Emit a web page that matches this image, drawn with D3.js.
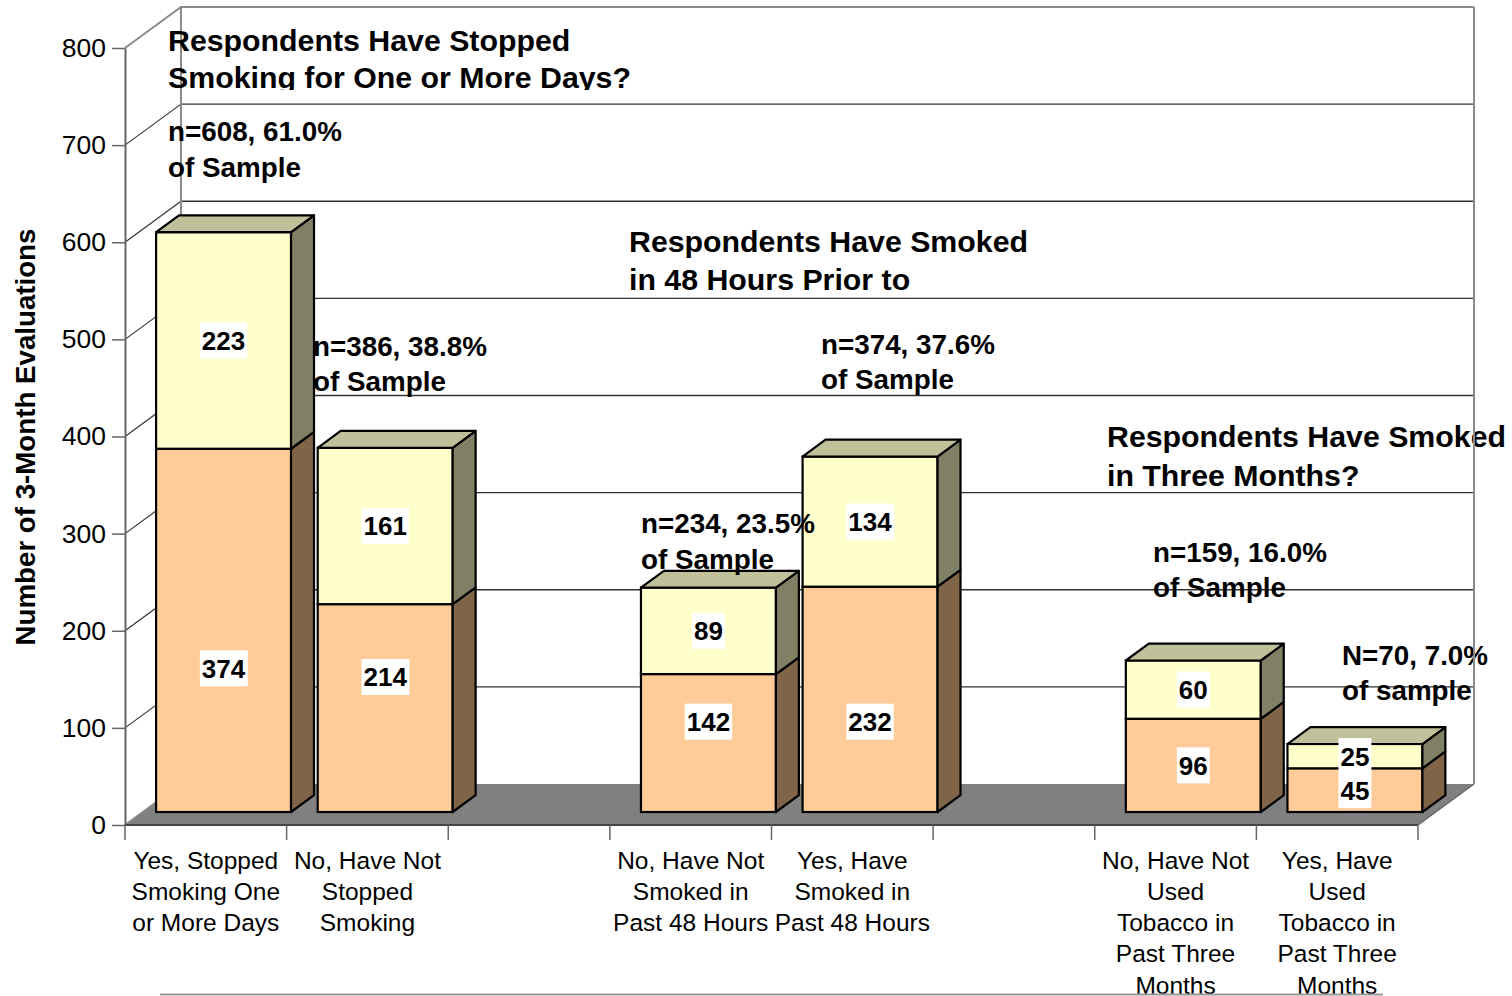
<!DOCTYPE html>
<html>
<head>
<meta charset="utf-8">
<script src="https://cdn.jsdelivr.net/npm/d3@7"></script>
<style>
  html, body { margin: 0; padding: 0; background: #fff; }
  svg { display: block; font-family: "Liberation Sans", Arial, sans-serif; }
</style>
</head>
<body>
<svg id="chart" width="1512" height="996"></svg>
<script>
// ---- data ----
const categories = [
  ["Yes, Stopped", "Smoking One", "or More Days"],
  ["No, Have Not", "Stopped", "Smoking"],
  [],
  ["No, Have Not", "Smoked in", "Past 48 Hours"],
  ["Yes, Have", "Smoked in", "Past 48 Hours"],
  [],
  ["No, Have Not", "Used", "Tobacco in", "Past Three", "Months"],
  ["Yes, Have", "Used", "Tobacco in", "Past Three", "Months"]
];
const lowerValues = [374, 214, null, 142, 232, null, 96, 45];
const upperValues = [223, 161, null, 89, 134, null, 60, 25];
const yTicks = [0, 100, 200, 300, 400, 500, 600, 700, 800];
const yTitle = "Number of 3-Month Evaluations";

const groupTitles = [
  ["Respondents Have Stopped", "Smoking for One or More Days?"],
  ["Respondents Have Smoked", "in 48 Hours Prior to"],
  ["Respondents Have Smoked", "in Three Months?"]
];
const sampleNotes = [
  ["n=608, 61.0%", "of Sample"],
  ["n=386, 38.8%", "of Sample"],
  ["n=234, 23.5%", "of Sample"],
  ["n=374, 37.6%", "of Sample"],
  ["n=159, 16.0%", "of Sample"],
  ["N=70, 7.0%", "of sample"]
];

// ---- layout ----
const svg = d3.select("#chart");
const FONT = "'Liberation Sans', Arial, sans-serif";
const plotLeft = 125, plotRight = 1418;
const depthX = 56, depthY = -41;          // full depth of the 3-D box
const barDepth0 = 0.317, barDepth1 = 0.727; // bar occupies this slice of the depth

const x = d3.scaleBand()
  .domain(d3.range(categories.length))
  .range([plotLeft, plotRight])
  .paddingInner(0.165)
  .paddingOuter(0.0825);
const y = d3.scaleLinear().domain([0, 800]).range([825, 48]);

const back = v => y(v) + depthY;

// label anchors (value units) for the lower segments' value labels
const lowerLabelAnchor = [148, 139, null, 93, 93, null, null, null];

// ---- floor ----
svg.append("polygon")
  .attr("points", [
    [plotLeft, y(0)], [plotRight, y(0)],
    [plotRight + depthX, back(0)], [plotLeft + depthX, back(0)]
  ].map(p => p.join(",")).join(" "))
  .attr("fill", "#808080");

// ---- back wall gridlines ----
svg.append("g").selectAll("line").data(yTicks.filter(v => v > 0 && v < 800)).join("line")
  .attr("x1", plotLeft + depthX).attr("x2", plotRight + depthX)
  .attr("y1", d => back(d)).attr("y2", d => back(d))
  .attr("stroke", "#333").attr("stroke-width", 1.3);

// ---- side wall diagonals ----
svg.append("g").selectAll("line").data(yTicks.filter(v => v > 0 && v < 800)).join("line")
  .attr("x1", plotLeft).attr("y1", d => y(d))
  .attr("x2", plotLeft + depthX).attr("y2", d => back(d))
  .attr("stroke", "#333").attr("stroke-width", 1.2);
// wall frame
svg.append("path")
  .attr("d", `M${plotLeft},${y(800)} L${plotLeft + depthX},${back(800)} L${plotRight + depthX},${back(800)}
              M${plotLeft + depthX},${back(800)} L${plotLeft + depthX},${back(0)}
              M${plotLeft},${y(0)} L${plotLeft + depthX},${back(0)}`)
  .attr("fill", "none").attr("stroke", "#8a8a8a").attr("stroke-width", 2);

// ---- bars ----
const step = x.step();
const gBars = svg.append("g");
const fx = depthX * barDepth0, fy = depthY * barDepth0;
const sdx = depthX * (barDepth1 - barDepth0), sdy = depthY * (barDepth1 - barDepth0);
const bw = x.bandwidth();
const pts = a => a.map(p => p.join(",")).join(" ");

categories.forEach((c, i) => {
  if (lowerValues[i] == null) return;
  const xl = x(i) + fx, xr = xl + bw;
  const segs = [
    { v0: 0, v1: lowerValues[i], front: "#FFCC99", side: "#7F6448", top: "#BFA37F" },
    { v0: lowerValues[i], v1: lowerValues[i] + upperValues[i], front: "#FFFFCC", side: "#808066", top: "#C0C09A" }
  ];
  segs.forEach((s, k) => {
    const Y0 = y(s.v0) + fy, Y1 = y(s.v1) + fy;
    gBars.append("rect")
      .attr("x", xl).attr("y", Y1).attr("width", bw).attr("height", Y0 - Y1)
      .attr("fill", s.front).attr("stroke", "#000").attr("stroke-width", 2.2);
    gBars.append("polygon")
      .attr("points", pts([[xr, Y1], [xr + sdx, Y1 + sdy], [xr + sdx, Y0 + sdy], [xr, Y0]]))
      .attr("fill", s.side).attr("stroke", "#000").attr("stroke-width", 2.2).attr("stroke-linejoin", "round");
    if (k === segs.length - 1) {
      gBars.append("polygon")
        .attr("points", pts([[xl, Y1], [xl + sdx, Y1 + sdy], [xr + sdx, Y1 + sdy], [xr, Y1]]))
        .attr("fill", s.top).attr("stroke", "#000").attr("stroke-width", 2.2).attr("stroke-linejoin", "round");
    }
  });
});

// ---- value labels ----
function valueLabel(cx, cy, text) {
  const g = svg.append("g");
  const t = g.append("text")
    .attr("x", cx).attr("y", cy).attr("dy", "0.36em")
    .attr("text-anchor", "middle")
    .attr("font-family", FONT).attr("font-weight", "bold").attr("font-size", 26)
    .attr("fill", "#000").text(text);
  const bb = t.node().getBBox();
  g.insert("rect", "text")
    .attr("x", bb.x - 2).attr("y", cy - 18).attr("width", bb.width + 4).attr("height", 36)
    .attr("fill", "#fff");
}
categories.forEach((c, i) => {
  if (lowerValues[i] == null) return;
  const cx = x(i) + fx + bw / 2;
  const lowMid = lowerLabelAnchor[i] != null ? lowerLabelAnchor[i] : lowerValues[i] / 2;
  valueLabel(cx, y(lowMid) + fy, lowerValues[i]);
  valueLabel(cx, y(lowerValues[i] + upperValues[i] / 2) + fy, upperValues[i]);
});

// ---- y axis ----
const yAxis = svg.append("g")
  .attr("transform", `translate(${plotLeft},0)`)
  .call(d3.axisLeft(y).tickValues(yTicks).tickSize(13).tickSizeOuter(0).tickPadding(6));
yAxis.select(".domain").attr("stroke", "#666").attr("stroke-width", 2);
yAxis.selectAll(".tick line").attr("stroke", "#666").attr("stroke-width", 1.5);
yAxis.selectAll(".tick text")
  .attr("font-family", FONT).attr("font-size", 26.5).attr("fill", "#000");

svg.append("text")
  .attr("transform", `translate(35,437) rotate(-90)`)
  .attr("text-anchor", "middle")
  .attr("font-family", FONT).attr("font-weight", "bold").attr("font-size", 27.7)
  .text(yTitle);

// ---- x axis ----
svg.append("line")
  .attr("x1", plotLeft).attr("x2", plotRight).attr("y1", y(0)).attr("y2", y(0))
  .attr("stroke", "#444").attr("stroke-width", 2);
svg.append("line")
  .attr("x1", plotRight).attr("y1", y(0)).attr("x2", plotRight + depthX).attr("y2", back(0))
  .attr("stroke", "#666").attr("stroke-width", 1.5);
const bounds = d3.range(categories.length + 1).map(i => plotLeft + i * step);
svg.append("g").selectAll("line").data(bounds).join("line")
  .attr("x1", d => d).attr("x2", d => d).attr("y1", y(0)).attr("y2", y(0) + 15)
  .attr("stroke", "#666").attr("stroke-width", 1.5);

const catG = svg.append("g")
  .attr("font-family", FONT).attr("font-size", 24.5).attr("text-anchor", "middle");
categories.forEach((lines, i) => {
  const cx = x(i) + bw / 2;
  lines.forEach((ln, j) => {
    catG.append("text").attr("x", cx).attr("y", 860 + j * 31.2).attr("dy", "0.36em").text(ln);
  });
});

// ---- annotations ----
svg.append("clipPath").attr("id", "clipTop")
  .append("rect").attr("x", 0).attr("y", 0).attr("width", 1512).attr("height", 90);

function note(lines, left, top, gap, size, clip) {
  const g = svg.append("g")
    .attr("font-family", FONT).attr("font-weight", "bold").attr("font-size", size);
  if (clip) g.attr("clip-path", "url(#clipTop)");
  lines.forEach((ln, j) => {
    g.append("text").attr("x", left).attr("y", top + j * gap).attr("dy", "0.36em").text(ln);
  });
}
note(groupTitles[0], 168, 40, 37, 30.3, true);
note(groupTitles[1], 629, 241, 38, 30.3);
note(groupTitles[2], 1107, 436, 39, 30.3);
note(sampleNotes[0], 168, 131, 36, 27.8);
note(sampleNotes[1], 313, 346, 35, 27.8);
note(sampleNotes[2], 641, 523, 36, 27.8);
note(sampleNotes[3], 821, 344, 35, 27.8);
note(sampleNotes[4], 1153, 552, 35, 27.8);
note(sampleNotes[5], 1342, 655, 35, 27.8);

// right edge of the back wall drawn on top
svg.append("line")
  .attr("x1", plotRight + depthX).attr("x2", plotRight + depthX)
  .attr("y1", back(800)).attr("y2", back(0))
  .attr("stroke", "#8a8a8a").attr("stroke-width", 2);

// top edge of the box below the chart
svg.append("line")
  .attr("x1", 160).attr("x2", 1383).attr("y1", 994.5).attr("y2", 994.5)
  .attr("stroke", "#999").attr("stroke-width", 2);
</script>
</body>
</html>
